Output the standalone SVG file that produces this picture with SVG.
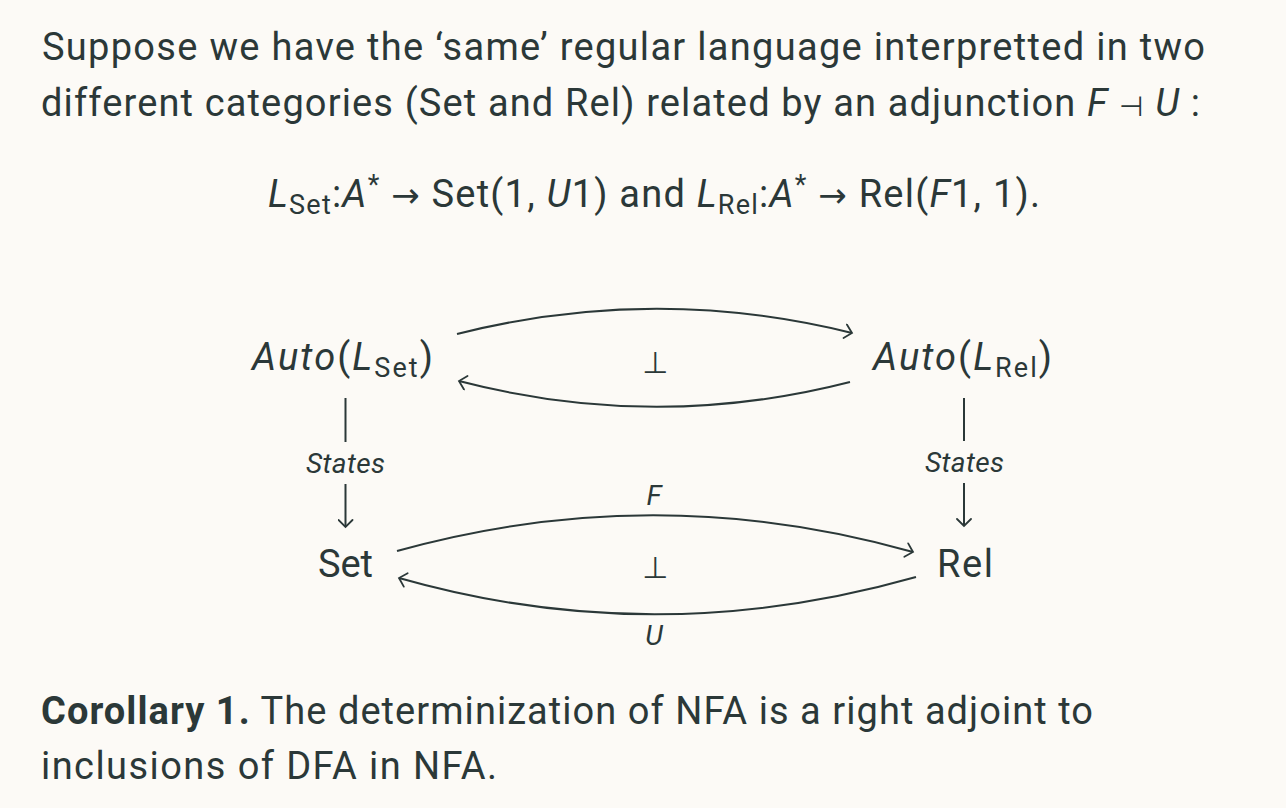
<svg xmlns="http://www.w3.org/2000/svg" width="1286" height="808" viewBox="0 0 1286 808">
  <style>
    .t { font-family: Roboto, "Noto Sans", sans-serif; fill: #2b3838; }
    .body { font-size: 38px; }
    .node { font-size: 38px; }
    .lbl { font-size: 28px; font-style: italic; }
    .i { font-style: italic; }
    .sub { font-size: 27px; }
    .sym { font-family: "DejaVu Sans", sans-serif; }
    .perp { font-family: "DejaVu Sans", sans-serif; font-size: 30px; }
    .edge { fill: none; stroke: #2b3838; stroke-width: 2; }
  </style>
  <defs>
    <marker id="to" viewBox="-10 -8 12 16" markerWidth="12" markerHeight="16" refX="0" refY="0" orient="auto" markerUnits="userSpaceOnUse">
      <path d="M -7 -7 Q -1.5 -1.5 0 0 Q -1.5 1.5 -7 7" fill="none" stroke="#2b3838" stroke-width="1.8" stroke-linecap="round"/>
    </marker>
  </defs>
  <rect width="1286" height="808" fill="#fcfaf6"/>

  <g id="intro">
    <text class="t body" x="42" y="60" textLength="1163">Suppose we have the ‘same’ regular language interpretted in two</text>
    <text class="t body" x="41" y="116" textLength="1159">different categories (Set and Rel) related by an adjunction <tspan class="i">F</tspan> <tspan class="sym" font-size="28">⊣</tspan> <tspan class="i">U</tspan> :</text>
  </g>

  <g id="formula">
    <text class="t body" x="268" y="207" textLength="772"><tspan class="i">L</tspan><tspan class="sub" dy="7">Set</tspan><tspan dy="-7">:</tspan><tspan class="i">A</tspan><tspan class="sub" dy="-13">*</tspan><tspan dy="13"> </tspan><tspan class="sym" font-size="34">→</tspan><tspan> Set(1, </tspan><tspan class="i">U</tspan><tspan>1) and </tspan><tspan class="i">L</tspan><tspan class="sub" dy="7">Rel</tspan><tspan dy="-7">:</tspan><tspan class="i">A</tspan><tspan class="sub" dy="-13">*</tspan><tspan dy="13"> </tspan><tspan class="sym" font-size="34">→</tspan><tspan> Rel(</tspan><tspan class="i">F</tspan><tspan>1, 1).</tspan></text>
  </g>

  <g id="connectors">
    <path class="edge" d="M 457 334 Q 655 284 852 333" marker-end="url(#to)"/>
    <path class="edge" d="M 850 382 Q 655 432 459 381" marker-end="url(#to)"/>
    <path class="edge" d="M 397 551 Q 655 479 913 552" marker-end="url(#to)"/>
    <path class="edge" d="M 916 577 Q 655 651 399 578" marker-end="url(#to)"/>
    <line class="edge" x1="345.5" y1="398" x2="345.5" y2="442"/>
    <path class="edge" d="M 345.5 484 L 345.5 527" marker-end="url(#to)"/>
    <line class="edge" x1="964" y1="398" x2="964" y2="441"/>
    <path class="edge" d="M 964 483 L 964 526" marker-end="url(#to)"/>
    <text class="t perp" x="655" y="373" text-anchor="middle">⊥</text>
    <text class="t perp" x="655" y="578" text-anchor="middle">⊥</text>
    <text class="t lbl" x="306" y="473" textLength="79">States</text>
    <text class="t lbl" x="925" y="472" textLength="79">States</text>
    <text class="t lbl" x="654" y="505" text-anchor="middle" font-size="26">F</text>
    <text class="t lbl" x="654" y="645" text-anchor="middle" font-size="26">U</text>
  </g>

  <g id="auto-set">
    <text class="t node" x="252" y="370" textLength="181"><tspan class="i">Auto</tspan>(<tspan class="i">L</tspan><tspan class="sub" dy="7">Set</tspan><tspan dy="-7">)</tspan></text>
  </g>
  <g id="auto-rel">
    <text class="t node" x="873" y="370" textLength="179"><tspan class="i">Auto</tspan>(<tspan class="i">L</tspan><tspan class="sub" dy="7">Rel</tspan><tspan dy="-7">)</tspan></text>
  </g>
  <g id="set">
    <text class="t node" x="318" y="577" textLength="55">Set</text>
  </g>
  <g id="rel">
    <text class="t node" x="937" y="577" textLength="56">Rel</text>
  </g>

  <g id="corollary">
    <text class="t body" x="41" y="724" textLength="1052"><tspan font-weight="bold">Corollary 1.</tspan> The determinization of NFA is a right adjoint to</text>
    <text class="t body" x="41" y="779" textLength="456">inclusions of DFA in NFA.</text>
  </g>
</svg>
